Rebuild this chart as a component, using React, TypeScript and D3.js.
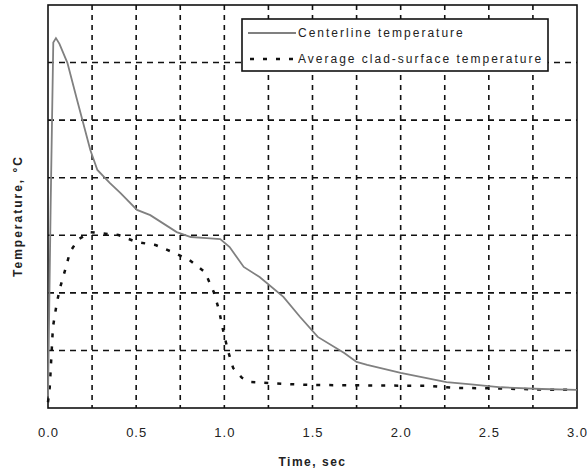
import { useEffect, useRef } from 'react';
import * as d3 from 'd3';

// centerline temperature (deg C, axis has no numbers)
const centerTime = [0, 0.015, 0.03, 0.045, 0.065, 0.11, 0.165, 0.24, 0.28, 0.35, 0.41, 0.505, 0.58, 0.73, 0.81, 0.9, 0.977, 1.03, 1.11, 1.2, 1.335, 1.43, 1.53, 1.68, 1.75, 1.81, 2.0, 2.26, 2.4, 2.57, 2.8, 3.0];
const centerTemp = [40, 700, 1270, 1285, 1265, 1199, 1070, 896, 827, 782, 747, 688, 670, 611, 594, 590, 587, 559, 490, 455, 386, 316, 247, 191, 160, 150, 122, 90, 82, 72, 66, 63];

// average clad-surface temperature
const cladTime = [0, 0.01, 0.028, 0.05, 0.068, 0.097, 0.125, 0.17, 0.24, 0.4, 0.5, 0.61, 0.72, 0.8, 0.89, 0.94, 0.97, 0.99, 1.02, 1.05, 1.1, 1.15, 1.25, 1.36, 1.5, 1.68, 1.9, 2.15, 2.3, 2.55, 2.8, 3.0];
const cladTemp = [20, 73, 281, 365, 417, 479, 542, 585, 611, 601, 577, 566, 538, 515, 472, 403, 340, 278, 200, 139, 105, 90, 87, 83, 80, 79, 78, 77, 70, 68, 64, 63];

const xTicks = [0, 0.5, 1, 1.5, 2, 2.5, 3];
const xGrid = d3.range(0.25, 3, 0.25);
const yGrid = [200, 400, 600, 800, 1000, 1200];

const legendLabels = ['Centerline temperature', 'Average clad-surface temperature'];

const FONT = 'Liberation Sans, Arial, sans-serif';

export default function App() {
  const svgRef = useRef<SVGSVGElement>(null);

  useEffect(() => {
    if (!svgRef.current) return;
    const svg = d3.select(svgRef.current);
    svg.selectAll('*').remove();

    const margin = { top: 5, right: 10, bottom: 63, left: 48 };
    const width = 587 - margin.left - margin.right;
    const height = 471 - margin.top - margin.bottom;

    const g = svg.append('g').attr('transform', `translate(${margin.left},${margin.top})`);

    const x = d3.scaleLinear().domain([0, 3]).range([0, width]);
    const y = d3.scaleLinear().domain([0, 1400]).range([height, 0]);

    // grid
    g.selectAll('.vgrid')
      .data(xGrid)
      .enter()
      .append('line')
      .attr('x1', d => x(d)).attr('x2', d => x(d))
      .attr('y1', 0).attr('y2', height)
      .attr('stroke', '#111').attr('stroke-width', 1.6)
      .attr('stroke-dasharray', '5,5');

    g.selectAll('.hgrid')
      .data(yGrid)
      .enter()
      .append('line')
      .attr('x1', 0).attr('x2', width)
      .attr('y1', d => y(d)).attr('y2', d => y(d))
      .attr('stroke', '#111').attr('stroke-width', 1.6)
      .attr('stroke-dasharray', '6,5');

    // frame
    g.append('rect')
      .attr('width', width).attr('height', height)
      .attr('fill', 'none').attr('stroke', '#111').attr('stroke-width', 1.6);

    // x tick labels
    g.append('g')
      .attr('transform', `translate(0,${height})`)
      .call(d3.axisBottom(x).tickValues(xTicks).tickSize(0).tickPadding(20).tickFormat(d3.format('.1f')))
      .call(a => a.select('.domain').remove())
      .selectAll('text')
      .attr('font-family', FONT)
      .attr('font-size', 13)
      .attr('letter-spacing', 1)
      .attr('fill', '#222');

    const line = d3.line<[number, number]>().x(d => x(d[0])).y(d => y(d[1]));
    const cladPts = cladTime.map((t, i) => [t, cladTemp[i]] as [number, number]);
    const centerPts = centerTime.map((t, i) => [t, centerTemp[i]] as [number, number]);

    g.append('path')
      .attr('d', line(cladPts))
      .attr('fill', 'none')
      .attr('stroke', '#111')
      .attr('stroke-width', 2.5)
      .attr('stroke-dasharray', '4,9');

    g.append('path')
      .attr('d', line(centerPts))
      .attr('fill', 'none')
      .attr('stroke', '#808080')
      .attr('stroke-width', 1.8);

    // legend
    const lg = svg.append('g').attr('transform', 'translate(242,19)');
    lg.append('rect')
      .attr('width', 306).attr('height', 52)
      .attr('fill', '#fff').attr('stroke', '#111').attr('stroke-width', 1.6);
    lg.append('line')
      .attr('x1', 6).attr('x2', 54).attr('y1', 14).attr('y2', 14)
      .attr('stroke', '#808080').attr('stroke-width', 1.8);
    lg.append('line')
      .attr('x1', 8).attr('x2', 56).attr('y1', 40).attr('y2', 40)
      .attr('stroke', '#111').attr('stroke-width', 2.5).attr('stroke-dasharray', '4,9');
    lg.selectAll('.ltext')
      .data(legendLabels)
      .enter()
      .append('text')
      .attr('x', 56)
      .attr('y', (d, i) => 18 + i * 26)
      .attr('font-family', FONT)
      .attr('font-size', 12)
      .attr('letter-spacing', 2)
      .attr('fill', '#222')
      .text(d => d);

    // axis titles
    svg.append('text')
      .attr('x', margin.left + width / 2)
      .attr('y', 466)
      .attr('text-anchor', 'middle')
      .attr('font-family', FONT)
      .attr('font-size', 12)
      .attr('font-weight', 'bold')
      .attr('letter-spacing', 1.5)
      .attr('fill', '#222')
      .text('Time, sec');

    svg.append('text')
      .attr('transform', 'translate(22,216) rotate(-90)')
      .attr('text-anchor', 'middle')
      .attr('font-family', FONT)
      .attr('font-size', 12)
      .attr('font-weight', 'bold')
      .attr('letter-spacing', 2)
      .attr('fill', '#222')
      .text('Temperature, °C');
  }, []);

  return (
    <div style={{ position: 'absolute', left: 0, top: 0 }}>
      <svg ref={svgRef} width={587} height={471} style={{ display: 'block', background: '#fff' }} />
    </div>
  );
}
